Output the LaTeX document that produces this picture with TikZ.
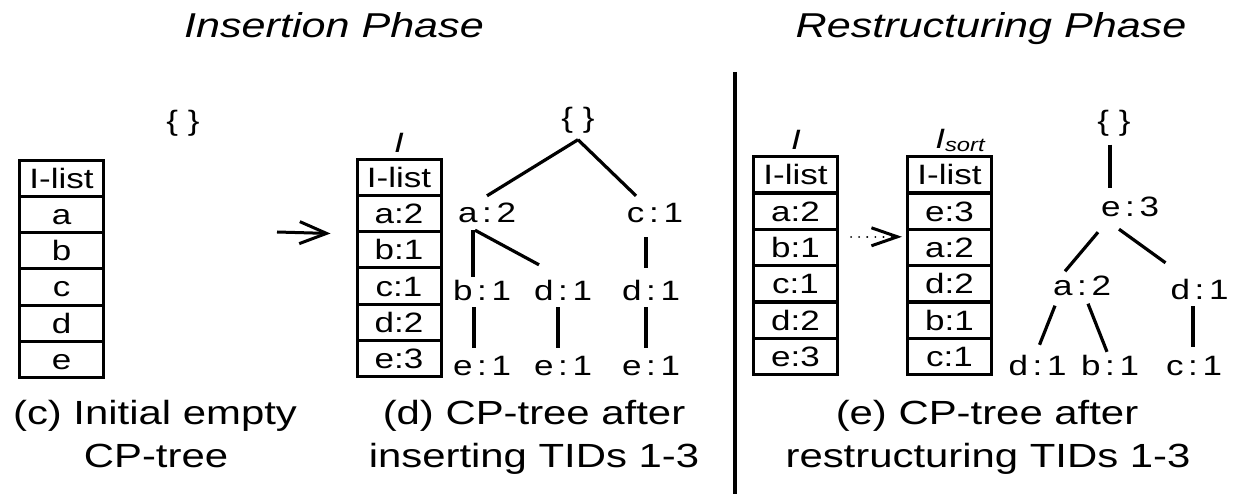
\documentclass[tikz,border=0pt]{standalone}
\usepackage{fontspec}
\setmainfont{Liberation Sans}[FakeStretch=1.25]
\usetikzlibrary{calc,arrows.meta}

\begin{document}
\begin{tikzpicture}[x=1pt,y=-1pt,
  cell/.style={draw, line width=3pt, minimum width=84pt, minimum height=36pt,
    inner sep=0pt, text height=20pt, text depth=0pt, font=\fontsize{28}{28}\selectfont},
  tnode/.style={inner xsep=0pt, inner ysep=7pt, text height=20pt, text depth=0pt,
    font=\fontsize{28}{28}\selectfont},
  troot/.style={inner xsep=0pt, inner ysep=6pt, text height=20pt, text depth=6pt,
    font=\fontsize{28}{28}\selectfont},
  edge/.style={line width=3.2pt},
  caption/.style={anchor=base, inner sep=0pt, font=\fontsize{33.5}{40}\selectfont},
  phase/.style={anchor=base, inner sep=0pt, font=\fontsize{34.5}{40}\selectfont\itshape},
  lbl/.style={anchor=base, inner sep=0pt, font=\fontsize{28}{28}\selectfont\itshape},
]
\useasboundingbox (0,0) rectangle (1239,494);

% phase headings and divider
\node[phase] (hins) at (334,38) {Insertion Phase};
\node[phase] (hres) at (991,38) {Restructuring Phase};
\coordinate (divtop) at (735,72);
\coordinate (divbot) at (735,494);
\draw[line width=3.5pt] (divtop) -- (divbot);

% (c) initial empty CP-tree
\foreach \t [count=\i from 0] in {I-list,a,b,c,d,e}
  \node[cell] (ta\i) at (61.5,179+36*\i) {\t};
\node[troot] (rc) at (183,123.5) {\{ \}};

% (d) table I
\node[lbl] (lb) at (399,153) {I};
\foreach \t [count=\i from 0] in {I-list,a:2,b:1,c:1,d:2,e:3}
  \node[cell] (tb\i) at (399,178+36*\i) {\t};

% arrow from (c) to (d)
\coordinate (arrstart) at (277,232);
\draw[line width=3pt, -{Straight Barb[length=27pt,width=22pt]}]
  (arrstart) -- ($(tb1.south west)+(-25,0)$);

% (d) CP-tree after inserting
\node[troot] (rd) at (578,120.5) {\{ \}};
\node[tnode] (da) at (487,213) {a\,:\,2};
\node[tnode] (dc) at (655,213) {c\,:\,1};
\node[tnode] (db) at (482,290) {b\,:\,1};
\node[tnode] (dd) at (563,290) {d\,:\,1};
\node[tnode] (dd2) at (651,290) {d\,:\,1};
\node[tnode] (de1) at (482,365) {e\,:\,1};
\node[tnode] (de2) at (563,365) {e\,:\,1};
\node[tnode] (de3) at (651,365) {e\,:\,1};

\draw[edge] (rd.south) -- (da.north);
\draw[edge] (rd.south) -- ($(dc.north)+(-19,0)$);
\draw[edge] ($(da.south)+(-14,0)$) -- ($(db.north)+(-9,4)$);
\draw[edge] ($(da.south)+(-12,0)$) -- ($(dd.north)+(-24,-8)$);
\draw[edge] ($(dc.south)+(-9,7)$) -- ($(dd2.north)+(-5,-5)$);
\draw[edge] ($(db.south)+(-8,0)$) -- ($(de1.north)+(-8,0)$);
\draw[edge] ($(dd.south)+(-5,0)$) -- ($(de2.north)+(-5,0)$);
\draw[edge] ($(dd2.south)+(-5,0)$) -- ($(de3.north)+(-5,0)$);

% (e) tables I and I_sort
\node[lbl] (lc) at (796,150) {I};
\foreach \t [count=\i from 0] in {I-list,a:2,b:1,c:1,d:2,e:3}
  \node[cell] (tc\i) at (795.5,175+36.3*\i) {\t};
\node[lbl] (ld) at (960,149) {I\raisebox{-3pt}{\fontsize{19}{19}\selectfont sort}};
\foreach \t [count=\i from 0] in {I-list,e:3,a:2,d:2,b:1,c:1}
  \node[cell] (td\i) at (949.5,175+36.3*\i) {\t};
\draw[line width=2pt, line cap=round, dash pattern=on 0.1pt off 8pt,
      -{Straight Barb[length=26pt,width=18pt,line width=3pt]}]
  ($(tc1.south east)+(12,6)$) -- ($(td1.south west)+(-4,6)$);

% (e) CP-tree after restructuring
\node[troot] (re) at (1114,123.5) {\{ \}};
\node[tnode] (ee) at (1130,207) {e\,:\,3};
\node[tnode] (ea) at (1082,285.5) {a\,:\,2};
\node[tnode] (ed) at (1199.5,289) {d\,:\,1};
\node[tnode] (fd) at (1037.5,365) {d\,:\,1};
\node[tnode] (fb) at (1110,365) {b\,:\,1};
\node[tnode] (fc) at (1194,365) {c\,:\,1};

\draw[edge] ($(re.south)+(-4,2)$) -- ($(ee.north)+(-20,-2)$);
\draw[edge] ($(ee.south)+(-32,8)$) -- ($(ea.north)+(-17,3)$);
\draw[edge] ($(ee.south)+(-11,5)$) -- ($(ed.north)+(-34,-9)$);
\draw[edge] ($(ea.south)+(-27,3)$) -- ($(fd.north)+(2,-3)$);
\draw[edge] ($(ea.south)+(6,1)$) -- ($(fb.north)+(-3,4)$);
\draw[edge] ($(ed.south)+(-6.5,0)$) -- ($(fc.north)+(-1,-1)$);

% captions
\node[caption] (cc1) at (155,424) {(c) Initial empty};
\node[caption] (cc2) at (156,467) {CP-tree};
\node[caption] (cd1) at (534,424) {(d) CP-tree after};
\node[caption] (cd2) at (534,467) {inserting TIDs 1-3};
\node[caption] (ce1) at (987,424) {(e) CP-tree after};
\node[caption] (ce2) at (988,467) {restructuring TIDs 1-3};
\end{tikzpicture}
\end{document}
